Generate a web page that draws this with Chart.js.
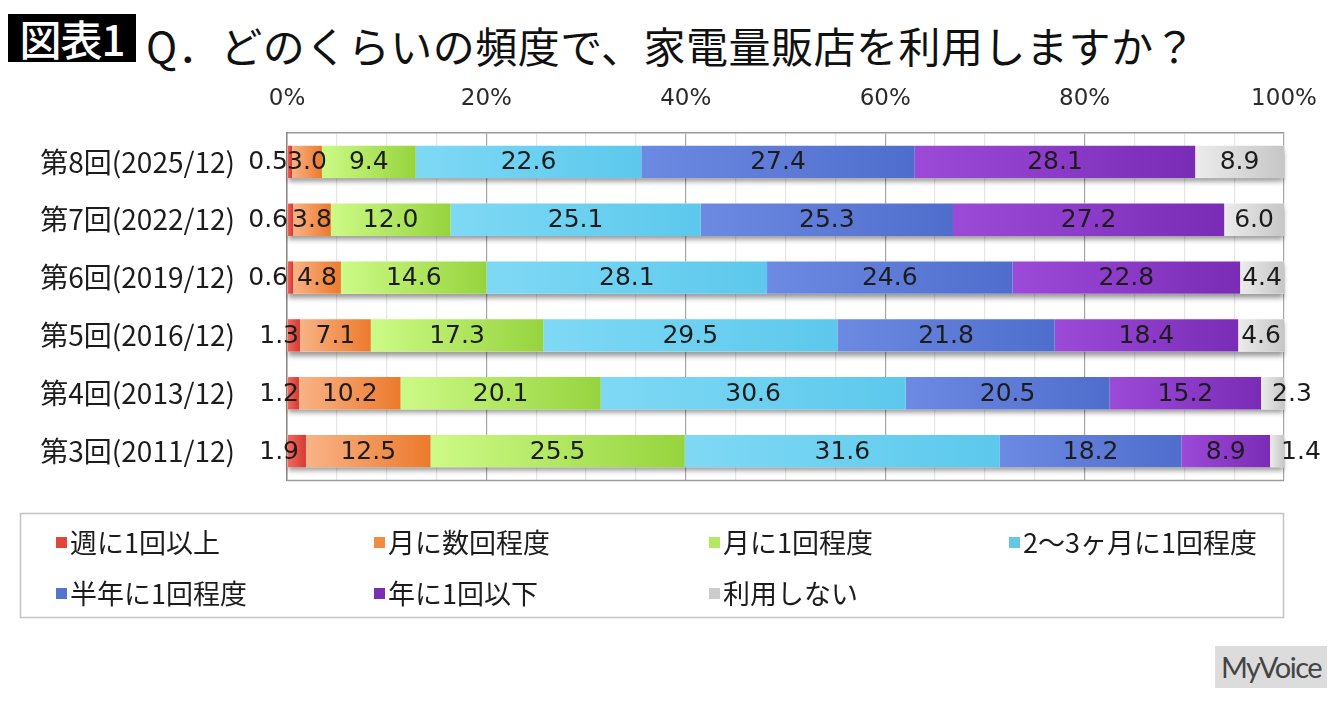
<!DOCTYPE html>
<html>
<head>
<meta charset="utf-8">
<script src="https://cdn.jsdelivr.net/npm/chart.js@4"></script>
<style>
  body { margin: 0; background: #fff; width: 1340px; height: 702px; overflow: hidden; position: relative; }
  #myChart { position: absolute; left: 0; top: 0; }
  .tag { position: absolute; left: 8px; top: 14px; width: 128px; height: 48px; background: #000; color: #fff;
         font: 500 42px "Noto Sans CJK JP"; line-height: 48px; text-align: center; letter-spacing: -1px; }
  .title { position: absolute; left: 146px; top: 14px; height: 48px; line-height: 48px; color: #111;
           font: 400 42px "Noto Sans CJK JP"; letter-spacing: 0.5px; white-space: nowrap; }
  .logo { position: absolute; left: 1215px; top: 646px; width: 112px; height: 42px; background: #dcdcdc;
          color: #444; font: 29px "Lato"; line-height: 42px; text-align: center; letter-spacing: -1.5px; }
</style>
</head>
<body>
<div class="tag">図表1</div>
<div class="title">Q．どのくらいの頻度で、家電量販店を利用しますか？</div>
<canvas id="myChart" width="1340" height="702"></canvas>
<div class="logo">MyVoice</div>
<script>
var categories = ['第8回(2025/12)', '第7回(2022/12)', '第6回(2019/12)', '第5回(2016/12)', '第4回(2013/12)', '第3回(2011/12)'];
var seriesNames = ['週に1回以上', '月に数回程度', '月に1回程度', '2～3ヶ月に1回程度', '半年に1回程度', '年に1回以下', '利用しない'];

var weekly        = [0.5, 0.6, 0.6, 1.3, 1.2, 1.9];
var monthlySome   = [3.0, 3.8, 4.8, 7.1, 10.2, 12.5];
var monthlyOnce   = [9.4, 12.0, 14.6, 17.3, 20.1, 25.5];
var everyFewMonth = [22.6, 25.1, 28.1, 29.5, 30.6, 31.6];
var halfYear      = [27.4, 25.3, 24.6, 21.8, 20.5, 18.2];
var yearlyOrLess  = [28.1, 27.2, 22.8, 18.4, 15.2, 8.9];
var notUsing      = [8.9, 6.0, 4.4, 4.6, 2.3, 1.4];

var xTickValues = [0, 20, 40, 60, 80, 100];

var series = [weekly, monthlySome, monthlyOnce, everyFewMonth, halfYear, yearlyOrLess, notUsing];
var lightColors = ['#f26a60', '#f9b387', '#cdfa86', '#7fd9f5', '#6c8ae2', '#9c4ad8', '#ececec'];
var darkColors  = ['#d63a30', '#ec7a2c', '#96d43e', '#5cc8ec', '#4f6dcc', '#7a2cb6', '#c6c6c6'];
var keyColors   = ['#e0453c', '#f08c42', '#b2e862', '#62c8e4', '#5573cc', '#7a30b2', '#cccccc'];

// 100% stacked: each row scaled to its own total
var shares = series.map(function(s){
    return s.map(function(v, j){
        var total = 0;
        series.forEach(function(t){ total += t[j]; });
        return v / total * 100;
    });
});

var ctx = document.getElementById('myChart');
var myChart;

function segFill(i){
    return function(c){
        var xs = c.chart.scales.x;
        if (c.type !== 'data' || !xs) return keyColors[i];
        var j = c.dataIndex, start = 0;
        for (var k = 0; k < i; k++) start += shares[k][j];
        var x0 = xs.getPixelForValue(start);
        var x1 = xs.getPixelForValue(start + shares[i][j]);
        if (!isFinite(x0) || !isFinite(x1) || x1 - x0 < 1) return keyColors[i];
        var g = c.chart.ctx.createLinearGradient(x0, 0, x1, 0);
        g.addColorStop(0, lightColors[i]);
        g.addColorStop(1, darkColors[i]);
        return g;
    };
}

var barDecor = {
    id: 'barDecor',
    beforeDatasetsDraw: function(chart){
        // soft shadow under each whole bar
        var c = chart.ctx;
        var first = chart.getDatasetMeta(0).data;
        var last = chart.getDatasetMeta(series.length - 1).data;
        c.save();
        c.shadowColor = 'rgba(0,0,0,0.4)';
        c.shadowBlur = 5;
        c.shadowOffsetY = 4;
        c.fillStyle = '#ffffff';
        first.forEach(function(bar, j){
            var h = bar.height;
            c.fillRect(first[j].base, bar.y - h / 2, last[j].x - first[j].base, h);
        });
        c.restore();
    },
    afterDatasetsDraw: function(chart){
        var c = chart.ctx;
        var area = chart.chartArea;
        var zero = chart.scales.x.getPixelForValue(0);
        c.save();
        c.strokeStyle = '#9a9a9a';
        c.lineWidth = 1.5;
        c.beginPath();
        c.moveTo(area.left, area.bottom + 0.5);
        c.lineTo(area.right, area.bottom + 0.5);
        c.stroke();
        c.font = '25px "DejaVu Sans"';
        c.fillStyle = '#1c1c1c';
        c.textBaseline = 'middle';
        series.forEach(function(s, i){
            chart.getDatasetMeta(i).data.forEach(function(bar, j){
                var v = s[j];
                var txt = v.toFixed(1);
                if (i === 0) {
                    c.textAlign = 'right';
                    c.fillText(txt, zero + (v > 1 ? 12 : 1), bar.y + 1);
                } else if (i === series.length - 1 && v < 3) {
                    c.textAlign = 'left';
                    c.fillText(txt, bar.base + 11, bar.y + 1);
                } else {
                    c.textAlign = 'center';
                    c.fillText(txt, (bar.x + bar.base) / 2, bar.y + 1);
                }
            });
        });
        c.restore();
    },
    afterDraw: function(chart){
        // legend box, four columns by two rows
        var c = chart.ctx;
        var colX = [56, 374, 709, 1009];
        var rowY = [542, 593];
        c.save();
        c.strokeStyle = '#c4c4c4';
        c.lineWidth = 1.5;
        c.strokeRect(20.5, 513.5, 1263, 104);
        c.font = '27px "Noto Sans CJK JP"';
        c.textBaseline = 'middle';
        c.textAlign = 'left';
        seriesNames.forEach(function(name, i){
            var x = colX[i % 4], y = rowY[Math.floor(i / 4)];
            c.fillStyle = keyColors[i];
            c.fillRect(x, y - 5, 11, 11);
            c.fillStyle = '#1c1c1c';
            c.fillText(name, x + 14, y + 1);
        });
        c.restore();
    }
};

getChart();

function getChart(){
    Chart.defaults.font.family = '"DejaVu Sans"';
    myChart = new Chart(ctx, {
        type: 'bar',
        plugins: [barDecor],
        data: {
            labels: categories,
            datasets: series.map(function(s, i){
                return {
                    label: seriesNames[i],
                    data: shares[i],
                    backgroundColor: segFill(i),
                    borderWidth: 0,
                    barPercentage: 0.56,
                    categoryPercentage: 1
                };
            })
        },
        options: {
            indexAxis: 'y',
            responsive: false,
            animation: false,
            devicePixelRatio: 1,
            layout: { padding: { left: 0, top: 80, right: 56, bottom: 222 } },
            plugins: {
                legend: { display: false },
                tooltip: { enabled: false }
            },
            scales: {
                x: {
                    position: 'top',
                    stacked: true,
                    min: 0,
                    max: 100,
                    afterFit: function(scale){ scale.height = 53; },
                    ticks: {
                        stepSize: 5,
                        autoSkip: false,
                        maxRotation: 0,
                        padding: 20,
                        color: '#2a2a2a',
                        font: { size: 23 },
                        callback: function(v){ return xTickValues.indexOf(v) >= 0 ? v + '%' : ''; }
                    },
                    grid: {
                        drawTicks: false,
                        lineWidth: 1.2,
                        color: function(c){ return c.tick && xTickValues.indexOf(c.tick.value) >= 0 ? '#a6a6a6' : '#e6e6e6'; }
                    },
                    border: { display: true, color: '#9a9a9a', width: 1.5 }
                },
                y: {
                    stacked: true,
                    afterFit: function(scale){ scale.width = 287; },
                    ticks: {
                        padding: 52,
                        color: '#1c1c1c',
                        font: { family: '"Noto Sans CJK JP"', size: 28 }
                    },
                    grid: { display: false, drawTicks: false },
                    border: { display: true, color: '#8a8a8a', width: 1.5 }
                }
            }
        }
    });
}
</script>
</body>
</html>
